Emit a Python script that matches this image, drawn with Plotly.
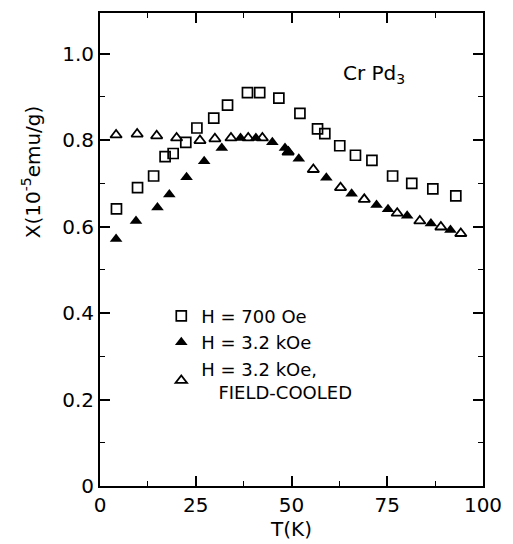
import plotly.graph_objects as go

# H = 700 Oe (open squares)
t_700 = [4.3, 9.8, 14.0, 17.0, 19.1, 22.4, 25.3, 29.7, 33.3, 38.5, 41.7, 46.7,
         52.2, 56.8, 58.7, 62.6, 66.7, 71.0, 76.4, 81.4, 86.9, 92.9]
chi_700 = [0.641, 0.690, 0.717, 0.762, 0.769, 0.795, 0.828, 0.851, 0.881, 0.910, 0.910, 0.897,
           0.862, 0.826, 0.815, 0.787, 0.765, 0.753, 0.717, 0.700, 0.687, 0.671]

# H = 3.2 kOe (filled triangles)
t_32 = [4.2, 9.4, 15.0, 18.1, 22.6, 27.2, 31.8, 36.7, 40.7, 45.0, 48.3, 49.2,
        51.9, 59.1, 65.7, 72.2, 75.2, 80.2, 86.4, 91.5]
chi_32 = [0.571, 0.613, 0.644, 0.674, 0.714, 0.751, 0.782, 0.805, 0.805, 0.795, 0.782, 0.774,
          0.757, 0.713, 0.676, 0.650, 0.640, 0.625, 0.607, 0.592]

# H = 3.2 kOe, field-cooled (open triangles)
t_fc = [4.2, 9.7, 14.8, 20.0, 26.1, 30.0, 34.2, 38.7, 42.4, 49.1, 55.7, 62.8,
        69.0, 77.6, 83.5, 89.0, 94.2]
chi_fc = [0.812, 0.814, 0.810, 0.805, 0.799, 0.803, 0.805, 0.805, 0.805, 0.772, 0.732, 0.690,
          0.663, 0.631, 0.613, 0.599, 0.584]

x_ticks = [0, 25, 50, 75, 100]
y_ticks = [0, 0.2, 0.4, 0.6, 0.8, 1.0]
y_tick_labels = ["0", "0.2", "0.4", "0.6", "0.8", "1.0"]

FONT = "DejaVu Sans"

fig = go.Figure()
fig.add_trace(go.Scatter(
    x=t_700, y=chi_700, mode="markers", name="H = 700 Oe",
    marker=dict(symbol="square-open", size=10, color="black", line=dict(width=1.7, color="black"))))
fig.add_trace(go.Scatter(
    x=t_32, y=chi_32, mode="markers", name="H = 3.2 kOe",
    marker=dict(symbol="triangle-up", size=11, color="black", line=dict(width=0))))
fig.add_trace(go.Scatter(
    x=t_fc, y=chi_fc, mode="markers", name="H = 3.2 kOe,<br>&nbsp;&nbsp;&nbsp;FIELD-COOLED",
    marker=dict(symbol="triangle-up-open", size=10, color="black", line=dict(width=1.8, color="black"))))

axis_common = dict(
    showline=True, linecolor="black", linewidth=2, mirror="ticks",
    ticks="inside", ticklen=10, tickwidth=1.6, tickcolor="black",
    showgrid=False, zeroline=False,
    tickfont=dict(family=FONT, size=20, color="black"),
)

fig.update_xaxes(range=[0, 100], tickvals=x_ticks,
                 minor=dict(ticks="inside", ticklen=5, tickwidth=1.4, dtick=12.5, tick0=0, tickcolor="black"),
                 title=dict(text="T(K)", font=dict(family=FONT, size=20, color="black"), standoff=2),
                 **axis_common)
fig.update_yaxes(range=[0, 1.094], tickvals=y_ticks, ticktext=y_tick_labels,
                 minor=dict(ticks="inside", ticklen=5, tickwidth=1.4, dtick=0.1, tick0=0, tickcolor="black"),
                 **axis_common)

fig.add_annotation(text="X(10<sup>-5</sup>emu/g)", textangle=-90, xref="paper", yref="paper",
                   x=-0.178, y=0.665, showarrow=False, xanchor="center", yanchor="middle",
                   font=dict(family=FONT, size=20, color="black"))
fig.add_annotation(text="Cr Pd<sub>3</sub>", xref="x", yref="y", x=71.5, y=0.952, showarrow=False,
                   font=dict(family=FONT, size=20, color="black"))

fig.update_layout(
    width=513, height=544,
    margin=dict(l=100, r=30, t=11, b=57),
    paper_bgcolor="white", plot_bgcolor="white",
    showlegend=True,
    legend=dict(x=0.16, y=0.398, xanchor="left", yanchor="top", bgcolor="rgba(0,0,0,0)",
                font=dict(family=FONT, size=18, color="black"), tracegroupgap=0),
)

fig.write_html("out.html", config={"displayModeBar": False},
               post_script="document.body.style.margin='0';document.body.style.overflow='hidden';")
